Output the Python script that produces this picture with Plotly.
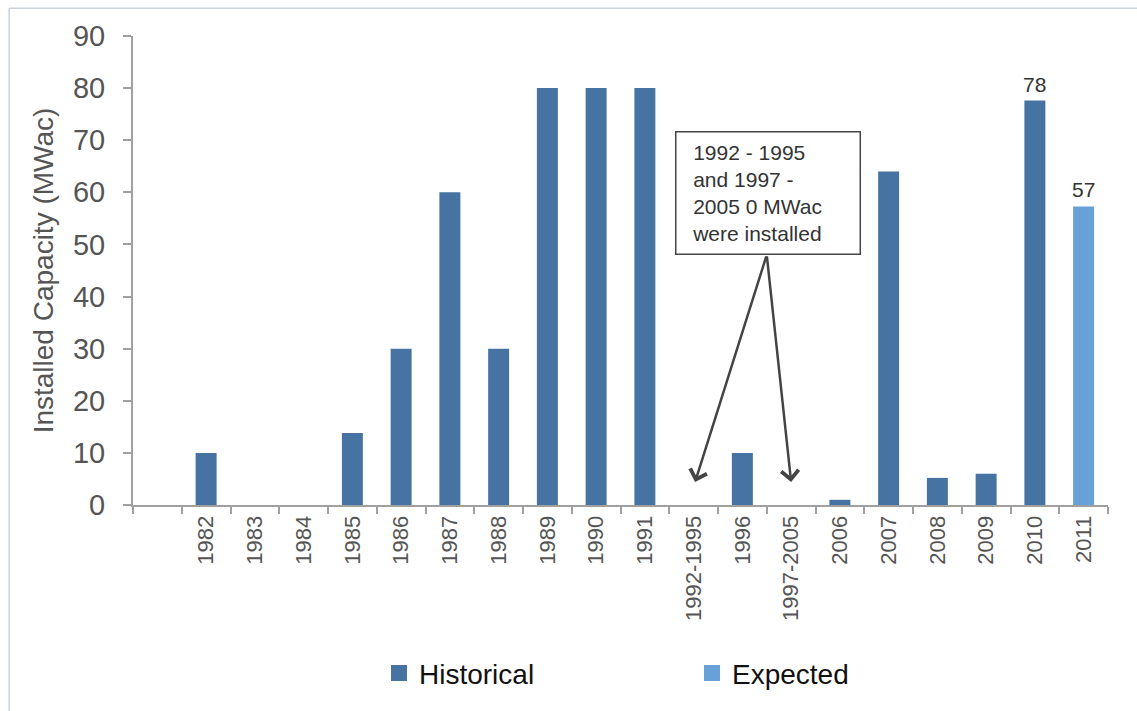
import plotly.graph_objects as go

categories = ["1982", "1983", "1984", "1985", "1986", "1987", "1988", "1989", "1990",
              "1991", "1992-1995", "1996", "1997-2005", "2006", "2007", "2008", "2009",
              "2010", "2011"]
historical = [10, 0, 0, 13.8, 30, 60, 30, 80, 80, 80, 0, 10, 0, 1, 64, 5.2, 6, 77.6, None]
expected = [None] * 18 + [57.3]
label_cats = ["2010", "2011"]
label_vals = [77.6, 57.3]
label_texts = ["78", "57"]
note_lines = ["1992 - 1995", "and 1997 -", "2005 0 MWac", "were installed"]

blank = " "
cat_order = [blank] + categories

HIST_COLOR = "#4673A1"
EXP_COLOR = "#67A1D7"
TEXT_COLOR = "#555555"
AXIS_COLOR = "#A0A0A0"
FONT = "Liberation Sans, Arial, Helvetica, sans-serif"

fig = go.Figure()
fig.add_trace(go.Bar(
    x=categories, y=historical, name="Historical", showlegend=False,
    marker=dict(color=HIST_COLOR, line=dict(width=0)), width=0.43,
))
fig.add_trace(go.Bar(
    x=categories, y=expected, name="Expected", showlegend=False,
    marker=dict(color=EXP_COLOR, line=dict(width=0)), width=0.43,
))
# legend-only entries with larger square swatches
for name, col in [("Historical", HIST_COLOR), ("Expected", EXP_COLOR)]:
    fig.add_trace(go.Scatter(x=[None], y=[None], mode="markers", name=name,
                             marker=dict(symbol="square", size=21, color=col),
                             hoverinfo="skip"))

# value labels (category index positions)
for c, v, t in zip(label_cats, label_vals, label_texts):
    fig.add_annotation(x=cat_order.index(c), y=v, text=t, showarrow=False,
                       yanchor="bottom", yshift=3,
                       font=dict(size=21, color="#333333", family=FONT))

# note box
note_text = "<br>".join("\u00a0\u00a0" + s for s in note_lines)
fig.add_annotation(x=12.53, y=59.9, xref="x", yref="y", text=note_text, showarrow=False,
                   align="left", width=173, height=111, valign="middle",
                   bordercolor="#444444", borderwidth=1.5, borderpad=5,
                   bgcolor="white", font=dict(size=21, color="#333333", family=FONT))
# arrows
for tip_x in [11.03, 13.0]:
    fig.add_annotation(x=tip_x, y=4.4, xref="x", yref="y", ax=12.5, ay=48.0,
                       axref="x", ayref="y", text="", showarrow=True, arrowhead=4,
                       arrowsize=1.35, arrowwidth=2.5, arrowcolor="#444444")

# frame lines (top and left)
fig.add_shape(type="line", xref="paper", yref="paper", x0=-0.127, x1=1.1, y0=1.0594, y1=1.0594,
              line=dict(color="#C9D3DD", width=1.5))
fig.add_shape(type="line", xref="paper", yref="paper", x0=-0.127, x1=-0.127, y0=-0.5, y1=1.0594,
              line=dict(color="#C9D3DD", width=1.5))

fig.update_layout(
    width=1137, height=711,
    margin=dict(l=133, r=29, t=36, b=204),
    paper_bgcolor="white", plot_bgcolor="white",
    barmode="overlay",
    font=dict(family=FONT, color=TEXT_COLOR),
    showlegend=True,
    legend=dict(orientation="h", x=0.2523, y=-0.359, xanchor="left", yanchor="middle",
                font=dict(size=28, color="#111111", family=FONT),
                entrywidth=268, itemsizing="trace", traceorder="normal"),
    xaxis=dict(
        type="category", categoryorder="array", categoryarray=cat_order,
        range=[-0.5, len(cat_order) - 0.5],
        tickson="boundaries", ticks="outside", ticklen=7, tickcolor=AXIS_COLOR, tickwidth=1.5,
        showline=True, linecolor=AXIS_COLOR, linewidth=2,
        tickangle=-90, tickfont=dict(size=22, color=TEXT_COLOR, family=FONT),
        showgrid=False, zeroline=False, fixedrange=True,
    ),
    yaxis=dict(
        range=[0, 90], dtick=10, ticks="outside", ticklen=8, tickcolor=AXIS_COLOR, tickwidth=1.5,
        showline=True, linecolor=AXIS_COLOR, linewidth=2, ticklabelstandoff=12,
        tickfont=dict(size=29, color=TEXT_COLOR, family=FONT),
        title=dict(text="Installed Capacity (MWac)", font=dict(size=28, color=TEXT_COLOR, family=FONT),
                   standoff=11),
        showgrid=False, zeroline=False,
    ),
)

fig.write_html("out.html", config={"displayModeBar": False},
               post_script="document.body.style.margin='0px';")
